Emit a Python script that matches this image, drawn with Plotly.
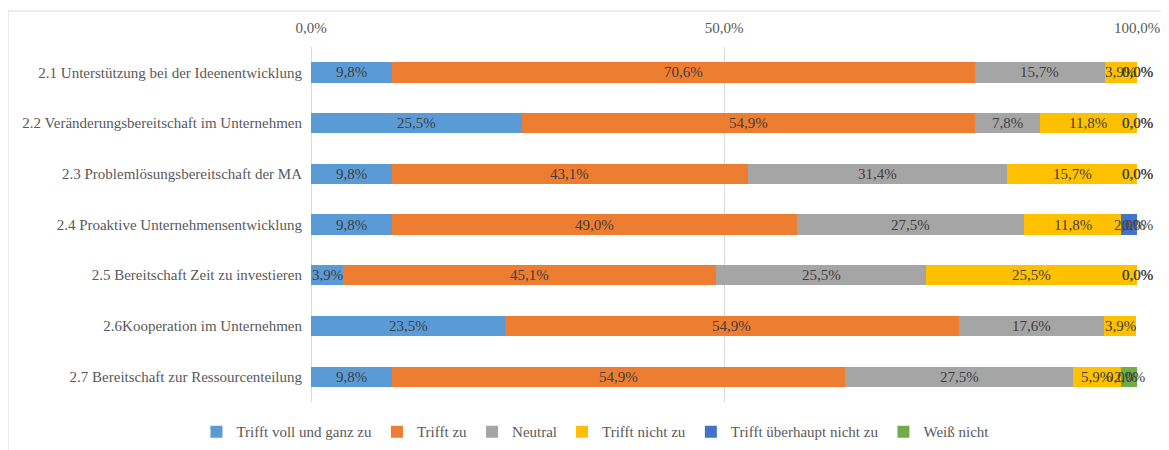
import plotly.graph_objects as go

categories = [
    "2.1 Unterstützung bei der Ideenentwicklung",
    "2.2 Veränderungsbereitschaft im Unternehmen",
    "2.3 Problemlösungsbereitschaft der MA",
    "2.4 Proaktive Unternehmensentwicklung",
    "2.5 Bereitschaft Zeit zu investieren",
    "2.6Kooperation im Unternehmen",
    "2.7 Bereitschaft zur Ressourcenteilung",
]
series_names = ["Trifft voll und ganz zu", "Trifft zu", "Neutral",
                "Trifft nicht zu", "Trifft überhaupt nicht zu", "Weiß nicht"]
voll = [9.8, 25.5, 9.8, 9.8, 3.9, 23.5, 9.8]
zu = [70.6, 54.9, 43.1, 49.0, 45.1, 54.9, 54.9]
neutral = [15.7, 7.8, 31.4, 27.5, 25.5, 17.6, 27.5]
nicht = [3.9, 11.8, 15.7, 11.8, 25.5, 3.9, 5.9]
ueberhaupt = [0.0, 0.0, 0.0, 2.0, 0.0, None, 0.0]
weiss = [0.0, 0.0, 0.0, 0.0, 0.0, None, 2.0]
colors = ["#5B9BD5", "#ED7D31", "#A5A5A5", "#FFC000", "#4472C4", "#70AD47"]
tick_vals = [0, 50, 100]
tick_text = ["0,0%", "50,0%", "100,0%"]

series = [voll, zu, neutral, nicht, ueberhaupt, weiss]
FONT = "Liberation Serif"
FS = 15

fig = go.Figure()
for name, vals, col in zip(series_names, series, colors):
    fig.add_trace(go.Bar(
        name=name, y=categories, x=[v if v is not None else 0 for v in vals],
        orientation="h", marker=dict(color=col, line=dict(width=0)),
        hoverinfo="x+y",
    ))

annotations = []
for i, cat in enumerate(categories):
    cum = 0.0
    for vals in series:
        v = vals[i]
        if v is None:
            continue
        annotations.append(dict(
            x=min(cum + v / 2, 100.0), y=cat, xref="x", yref="y",
            text=f"{v:.1f}".replace(".", ",") + "%",
            showarrow=False, font=dict(family=FONT, size=FS, color="#404040"),
            xanchor="center", yanchor="middle",
        ))
        cum += v

# page has an 8px body margin, so the figure is sized 8px smaller
fig.update_layout(
    width=1161, height=442,
    barmode="stack", bargap=0.6,
    paper_bgcolor="white", plot_bgcolor="white",
    margin=dict(l=303, r=32, t=39, b=48, autoexpand=False),
    font=dict(family=FONT, size=FS, color="#595959"),
    annotations=annotations,
    legend=dict(orientation="h", xref="container", yref="container",
                x=0.506, y=0.041, xanchor="center", yanchor="middle",
                font=dict(family=FONT, size=FS, color="#595959"),
                itemwidth=30, traceorder="normal"),
    shapes=[dict(type="rect", xref="paper", yref="paper",
                 x0=-0.3668, x1=1.05, y0=-0.3, y1=1.1014,
                 line=dict(color="#D9D9D9", width=1), layer="below")],
)
fig.update_xaxes(side="top", range=[0, 100], tickvals=tick_vals, ticktext=tick_text,
                 showgrid=True, gridcolor="#D9D9D9", gridwidth=1,
                 zeroline=True, zerolinecolor="#D9D9D9", zerolinewidth=1,
                 showline=False, ticks="", ticklabelstandoff=10, automargin=False,
                 tickfont=dict(family=FONT, size=FS, color="#595959"), fixedrange=True)
fig.update_yaxes(autorange="reversed", showgrid=False, showline=False, ticks="",
                 ticklabelstandoff=8, automargin=False,
                 tickfont=dict(family=FONT, size=FS, color="#595959"))

fig.write_html("out.html")
